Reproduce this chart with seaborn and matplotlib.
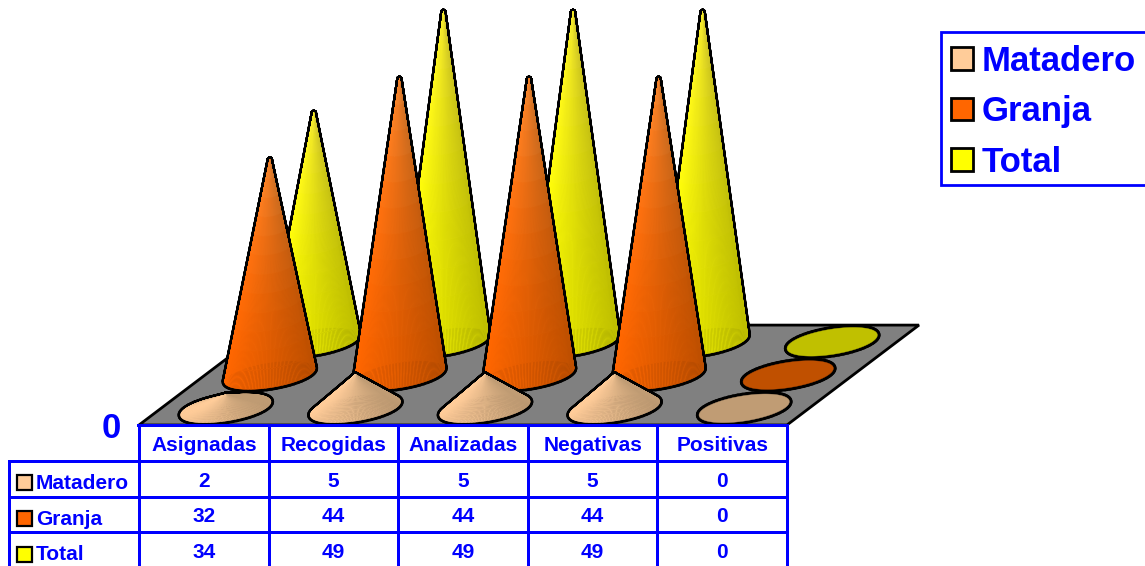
import numpy as np
import matplotlib
matplotlib.use('Agg')
import matplotlib.pyplot as plt
import seaborn as sns
from matplotlib.collections import PolyCollection
from matplotlib.colors import ListedColormap
from matplotlib.patches import Patch, Polygon, Rectangle

categories = ['Asignadas', 'Recogidas', 'Analizadas', 'Negativas', 'Positivas']
series_names = ['Matadero', 'Granja', 'Total']
matadero = [2, 5, 5, 5, 0]
granja = [32, 44, 44, 44, 0]
total = [34, 49, 49, 49, 0]
light_colors = ['#FFCC99', '#FF6600', '#FFFF00']
dark_colors = ['#C09C74', '#C05000', '#C0C000']
axis_min_label = '0'

BLUE = '#0000FF'
FONT = 'Liberation Sans'

# scale of the oblique floor, in pixels
ORIGIN_X, ORIGIN_Y = 139.0, 425.0
CAT_W = 129.6
DEPTH_X, DEPTH_Y = 44.0, 33.3
UNIT_H = 6.73


def project(cat, depth, value=0.0):
    return ORIGIN_X + CAT_W * cat + DEPTH_X * depth, ORIGIN_Y - DEPTH_Y * depth - UNIT_H * value


def draw_cone(ax, cat_idx, depth_idx, value, light, dark):
    cx, cy = project(cat_idx + 0.5, depth_idx + 0.5)
    apex = np.array(project(cat_idx + 0.5, depth_idx + 0.5, value))
    t = np.linspace(0, 2 * np.pi, 181)
    # the base circle lying on the floor
    ex = cx + 0.308 * CAT_W * np.cos(t) + 0.48 * DEPTH_X * np.sin(t)
    ey = cy - 0.43 * DEPTH_Y * np.sin(t)
    rim = np.column_stack([ex, ey])

    # black underlay gives the silhouette
    under = [[apex, rim[i], rim[i + 3]] for i in range(0, 180, 3)]
    ax.add_collection(PolyCollection(under, facecolors='black', edgecolors='black', linewidths=4.6))

    if value == 0:
        ax.add_patch(Polygon(rim, facecolor=dark, edgecolor=dark, linewidth=0.3))
        return

    ramp = sns.blend_palette([light, dark], 101)
    polys, colors = [], []
    order = np.argsort(ey[:-1])
    levels = np.linspace(0, 1, 13)
    for i in order:
        u = (ex[i] - ex.min()) / (ex.max() - ex.min())
        u = min(1.0, u + 0.35 * max(np.sin(t[i]), 0))
        base = np.array(ramp[int(u * 100)])
        for s0, s1 in zip(levels[:-1], levels[1:]):
            a0 = rim[i] + (apex - rim[i]) * s0
            a1 = rim[i + 1] + (apex - rim[i + 1]) * s0
            b1 = rim[i + 1] + (apex - rim[i + 1]) * s1
            b0 = rim[i] + (apex - rim[i]) * s1
            polys.append([a0, a1, b1, b0])
            fade = 0.28 * s1 ** 2 if value > 10 else 0.0
            colors.append(base + (np.array([1, 0.85, 0.6]) - base) * fade)
    ax.add_collection(PolyCollection(polys, facecolors=colors, edgecolors=colors, linewidths=0.35))


sns.set_theme(style='white')
plt.rcParams['font.family'] = [FONT, 'DejaVu Sans']
plt.rcParams['font.weight'] = 'bold'

W, H = 1145, 566
fig = plt.figure(figsize=(W / 100, H / 100), dpi=100, facecolor='white')

# main area in pixel coordinates
ax = fig.add_axes([0, 0, 1, 1])
ax.set_xlim(0, W)
ax.set_ylim(H, 0)
ax.axis('off')

n_cats = len(categories)
n_series = len(series_names)
floor = [project(0, 0), project(0, n_series), project(n_cats, n_series), project(n_cats, 0)]
ax.add_patch(Polygon(floor, closed=True, facecolor='#808080', edgecolor='black', linewidth=2.0))

all_series = [matadero, granja, total]
for d in range(n_series - 1, -1, -1):
    for c in range(n_cats):
        draw_cone(ax, c, d, all_series[d][c], light_colors[d], dark_colors[d])

# legend frame is separate so the rows can sit lower in it
ax.add_patch(Rectangle((941, 32), 212, 153, facecolor='white', edgecolor=BLUE, linewidth=2.0))
handles = [Patch(facecolor=c, edgecolor='black', linewidth=2.0) for c in light_colors]
leg = ax.legend(handles, series_names, loc='upper left', bbox_to_anchor=(941, 34.5),
                bbox_transform=ax.transData, borderaxespad=0, labelcolor=BLUE, frameon=False,
                handlelength=0.62, handleheight=0.62,
                handletextpad=0.26, labelspacing=0.5, borderpad=0.3,
                prop={'family': FONT, 'weight': 'bold', 'size': 25})

# data table as a heatmap: header row + one row per series
ROW_H = 35.75
left = ORIGIN_X - CAT_W
table_h = ROW_H * (n_series + 1)
ax_table = fig.add_axes([left / W, (H - ORIGIN_Y - table_h) / H, CAT_W * (n_cats + 1) / W, table_h / H])
annot = [[''] + categories]
for name, row in zip(series_names, all_series):
    annot.append([''] + [str(v) for v in row])
annot = np.array(annot)
mask = np.zeros(annot.shape, dtype=bool)
mask[0, 0] = True
sns.heatmap(np.zeros(annot.shape), mask=mask, annot=annot, fmt='', cmap=ListedColormap(['white']),
            linewidths=2.0, linecolor=BLUE, cbar=False, xticklabels=False, yticklabels=False,
            annot_kws={'color': BLUE, 'fontsize': 15, 'fontweight': 'bold', 'family': FONT},
            ax=ax_table)
ax_table.collections[0].set_clip_on(False)
ax_table.patch.set_alpha(0)

# heatmap text sits a little high
for txt in ax_table.texts:
    x, y = txt.get_position()
    txt.set_position((x, y + 0.07))

# the corner cell has no border
ax_table.add_patch(Rectangle((-0.03, -0.06), 1.015, 1.03, facecolor='white', edgecolor='none',
                             clip_on=False, zorder=5))

ax_table.text(ORIGIN_X - 18, ORIGIN_Y + 4, axis_min_label, color=BLUE, fontsize=25, fontweight='bold',
              ha='right', va='center', transform=ax.transData, clip_on=False, zorder=6)

for r, (name, col) in enumerate(zip(series_names, light_colors), start=1):
    ax_table.add_patch(Rectangle((0.058, r + 0.41), 0.116, 0.42, facecolor=col, edgecolor='black',
                                 linewidth=1.6, clip_on=False))
    ax_table.text(0.204, r + 0.63, name, color=BLUE, fontsize=15, fontweight='bold',
                  ha='left', va='center', family=FONT)

fig.savefig('out.png', dpi=100, facecolor='white')
